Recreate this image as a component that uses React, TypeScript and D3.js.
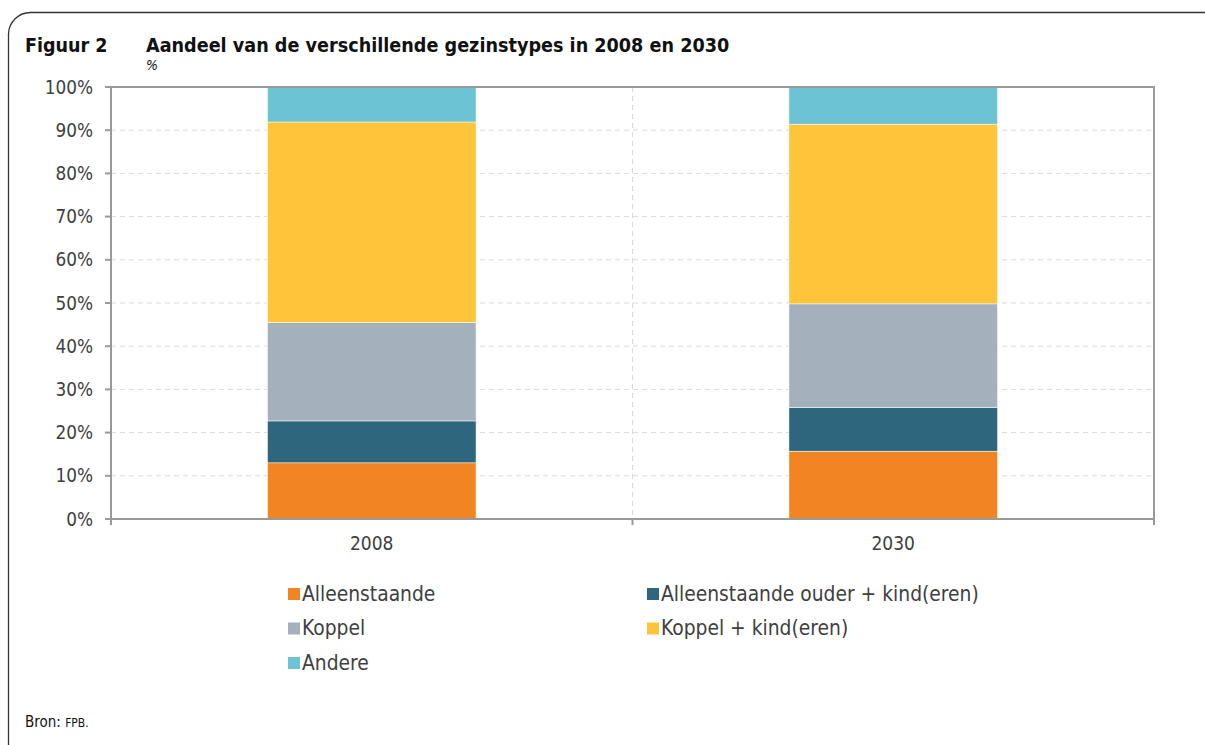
import React from "react";
import * as d3 from "d3";

const years = ["2008", "2030"];
const seriesNames = [
  "Alleenstaande",
  "Alleenstaande ouder + kind(eren)",
  "Koppel",
  "Koppel + kind(eren)",
  "Andere",
];
const seriesColors = ["#F28522", "#2E677D", "#A5B0BD", "#FFC53A", "#6CC3D3"];
const alleenstaande = [13.0, 15.7];
const alleenstaandeOuder = [9.7, 10.1];
const koppel = [22.8, 24.0];
const koppelKind = [46.4, 41.6];
const andere = [8.1, 8.6];
const yTicks = [0, 10, 20, 30, 40, 50, 60, 70, 80, 90, 100];

const W = 1205;
const H = 745;
const plot = { left: 111, right: 1154, top: 87, bottom: 519 };
const FONT = "'DejaVu Sans Condensed', 'DejaVu Sans', sans-serif";

export default function App() {
  const xOuter = d3.scaleBand<string>().domain(years).range([plot.left, plot.right]);
  const barW = xOuter.bandwidth() * 0.4;
  const barX = (yr: string) => xOuter(yr)! + (xOuter.bandwidth() - barW) / 2;
  const y = d3.scaleLinear().domain([0, 100]).range([plot.bottom, plot.top]);

  const rows = years.map((yr, i) => ({
    year: yr,
    s0: alleenstaande[i],
    s1: alleenstaandeOuder[i],
    s2: koppel[i],
    s3: koppelKind[i],
    s4: andere[i],
  }));
  const keys = ["s0", "s1", "s2", "s3", "s4"];
  const stacked = d3.stack<any>().keys(keys)(rows);

  const legendItems = seriesNames.map((name, i) => ({
    name,
    color: seriesColors[i],
    col: i % 2,
    row: Math.floor(i / 2),
  }));

  const textColor = "#404040";

  return (
    <svg width={W} height={H} style={{ position: "absolute", left: 0, top: 0, background: "#fff" }}>
      <rect x={0} y={0} width={W} height={H} fill="#fff" />
      <path
        d={`M8.5,745 L8.5,34 A22,22 0 0 1 30.5,12.5 L1205,12.5`}
        fill="none"
        stroke="#333"
        strokeWidth={1.3}
      />
      <text x={25} y={52} fontFamily={FONT} fontWeight="bold" fontSize={19.5} fill="#111">
        Figuur 2
      </text>
      <text x={146} y={52} fontFamily={FONT} fontWeight="bold" fontSize={19.6} fill="#111">
        Aandeel van de verschillende gezinstypes in 2008 en 2030
      </text>
      <text x={146} y={70} fontFamily={FONT} fontStyle="italic" fontSize={14} fill="#111">
        %
      </text>

      {yTicks.slice(1, -1).map((t) => (
        <line
          key={"g" + t}
          x1={plot.left}
          x2={plot.right}
          y1={y(t)}
          y2={y(t)}
          stroke="#D9D9D9"
          strokeWidth={1}
          strokeDasharray="5,4"
        />
      ))}
      <line
        x1={xOuter("2030")!}
        x2={xOuter("2030")!}
        y1={plot.top}
        y2={plot.bottom}
        stroke="#D9D9D9"
        strokeWidth={1}
        strokeDasharray="5,4"
      />

      {stacked.map((layer, li) => (
        <g key={layer.key} fill={seriesColors[li]}>
          {layer.map((d, di) => (
            <rect
              key={di}
              x={barX(years[di])}
              width={barW}
              y={y(d[1])}
              height={y(d[0]) - y(d[1])}
              stroke="#fff"
              strokeWidth={0.5}
            />
          ))}
        </g>
      ))}

      <path
        d={`M${plot.left},${plot.bottom} L${plot.left},${plot.top} L${plot.right},${plot.top} L${plot.right},${plot.bottom}`}
        fill="none"
        stroke="#999"
        strokeWidth={2}
      />
      <line x1={plot.left} x2={plot.right} y1={plot.bottom} y2={plot.bottom} stroke="#999" strokeWidth={2} />

      {yTicks.map((t) => (
        <g key={"y" + t}>
          <line x1={plot.left - 6} x2={plot.left} y1={y(t)} y2={y(t)} stroke="#999" strokeWidth={2} />
          <text
            x={93}
            y={y(t)}
            dy="0.35em"
            textAnchor="end"
            fontFamily={FONT}
            fontSize={18.8}
            fill={textColor}
          >
            {t + "%"}
          </text>
        </g>
      ))}

      {[plot.left, xOuter("2030")!, plot.right].map((px, i) => (
        <line key={"xt" + i} x1={px} x2={px} y1={plot.bottom} y2={plot.bottom + 6} stroke="#999" strokeWidth={2} />
      ))}
      {years.map((yr) => (
        <text
          key={"xl" + yr}
          x={xOuter(yr)! + xOuter.bandwidth() / 2}
          y={550}
          textAnchor="middle"
          fontFamily={FONT}
          fontSize={19}
          fill={textColor}
        >
          {yr}
        </text>
      ))}

      {legendItems.map((it) => {
        const lx = it.col === 0 ? 288 : 647;
        const ly = 600.5 + it.row * 34.5;
        return (
          <g key={it.name}>
            <rect x={lx} y={ly - 12.5} width={12} height={12} fill={it.color} />
            <text x={lx + 14} y={ly} fontFamily={FONT} fontSize={20.8} fill={textColor}>
              {it.name}
            </text>
          </g>
        );
      })}

      <text x={25} y={727} fontFamily={FONT} fontSize={15} fill="#111">
        Bron: <tspan fontSize={12}>FPB.</tspan>
      </text>
    </svg>
  );
}
